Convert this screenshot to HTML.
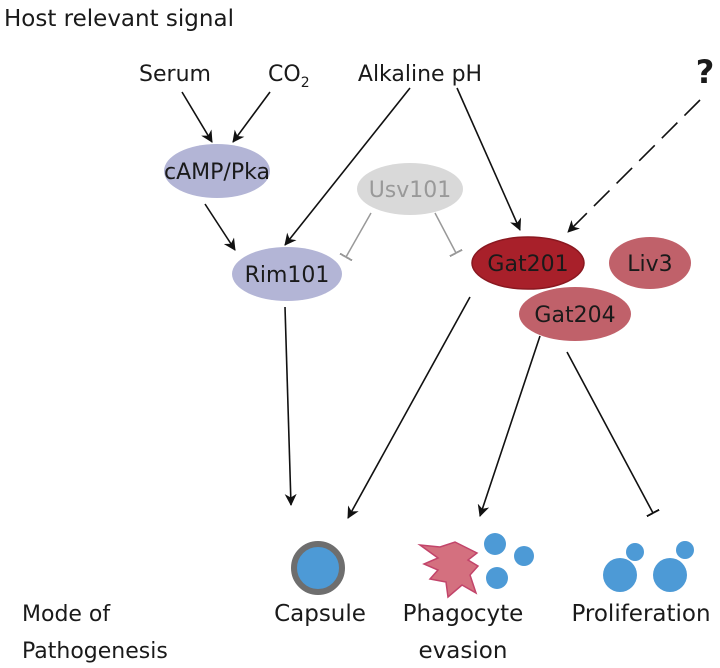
<!DOCTYPE html>
<html><head><meta charset="utf-8"><style>
html,body{margin:0;padding:0;background:#fff}
svg{display:block}
text{font-family:"DejaVu Sans","Liberation Sans",sans-serif;fill:#1a1a1a}
</style></head><body>
<svg width="720" height="668" viewBox="0 0 720 668" xmlns="http://www.w3.org/2000/svg">
<defs>
<marker id="a" markerWidth="12" markerHeight="12" refX="11" refY="6" orient="auto" markerUnits="userSpaceOnUse" viewBox="0 0 12 12">
<path d="M0,0 L12,6 L0,12 L3.5,6 z" fill="#111"/></marker>
<marker id="t" markerWidth="2" markerHeight="14" refX="1" refY="7" orient="auto" markerUnits="userSpaceOnUse"><rect x="0" y="0" width="2" height="14" fill="#111"/></marker>
<marker id="tg" markerWidth="2" markerHeight="14" refX="1" refY="7" orient="auto" markerUnits="userSpaceOnUse"><rect x="0" y="0" width="2" height="14" fill="#999"/></marker>
</defs>
<text x="4" y="26" font-size="23">Host relevant signal</text>
<text x="175" y="81" font-size="22" text-anchor="middle">Serum</text>
<text x="268" y="81" font-size="22">CO<tspan font-size="14" dy="6">2</tspan></text>
<text x="420" y="81" font-size="22" text-anchor="middle">Alkaline pH</text>
<text x="705" y="83" font-size="32" font-weight="bold" text-anchor="middle">?</text>

<g stroke="#111" stroke-width="1.6" fill="none">
<line x1="182" y1="92" x2="212" y2="142" marker-end="url(#a)"/>
<line x1="270" y1="92" x2="233" y2="142" marker-end="url(#a)"/>
<line x1="205" y1="204" x2="235" y2="250" marker-end="url(#a)"/>
<line x1="410" y1="88" x2="285" y2="245" marker-end="url(#a)"/>
<line x1="457" y1="88" x2="520" y2="230" marker-end="url(#a)"/>
<line x1="700" y1="100" x2="568" y2="232" stroke-dasharray="22,10" marker-end="url(#a)"/>
<line x1="285" y1="307" x2="291" y2="505" marker-end="url(#a)"/>
<line x1="470" y1="297" x2="348" y2="518" marker-end="url(#a)"/>
<line x1="540" y1="336" x2="480" y2="516" marker-end="url(#a)"/>
<line x1="567" y1="352" x2="653" y2="513" marker-end="url(#t)"/>
</g>
<g stroke="#999" stroke-width="1.5">
<line x1="371" y1="213" x2="346" y2="257" marker-end="url(#tg)"/>
<line x1="435" y1="213" x2="456" y2="253" marker-end="url(#tg)"/>
</g>

<ellipse cx="217" cy="171" rx="53" ry="27" fill="#b3b5d6"/>
<text x="217" y="179" font-size="22" text-anchor="middle">cAMP/Pka</text>
<ellipse cx="287" cy="274" rx="55" ry="27" fill="#b3b5d6"/>
<text x="287" y="282" font-size="22" text-anchor="middle">Rim101</text>
<ellipse cx="410" cy="189" rx="53" ry="26" fill="#d9d9d9"/>
<text x="410" y="197" font-size="22" text-anchor="middle" style="fill:#999">Usv101</text>
<ellipse cx="528" cy="263" rx="56" ry="26" fill="#a8202a" stroke="#8a1820" stroke-width="1.5"/>
<text x="528" y="271" font-size="22" text-anchor="middle">Gat201</text>
<ellipse cx="650" cy="263" rx="41" ry="26" fill="#c0616a"/>
<text x="650" y="271" font-size="22" text-anchor="middle">Liv3</text>
<ellipse cx="575" cy="314" rx="56" ry="27" fill="#c0616a"/>
<text x="575" y="322" font-size="22" text-anchor="middle">Gat204</text>

<circle cx="318" cy="568" r="24" fill="#4d9ad6" stroke="#6e6e6e" stroke-width="6"/>
<path d="M420,545 L440,547 L455,542 L477,553 L468,560 L478,566 L470,575 L476,593 L462,585 L448,597 L446,582 L430,579 L438,570 L424,564 L438,558 Z" fill="#d4707f" stroke="#c2446a" stroke-width="1.5"/>
<circle cx="495" cy="544" r="11" fill="#4d9ad6"/>
<circle cx="524" cy="556" r="10" fill="#4d9ad6"/>
<circle cx="497" cy="578" r="11" fill="#4d9ad6"/>
<circle cx="620" cy="575" r="17" fill="#4d9ad6"/>
<circle cx="635" cy="552" r="9" fill="#4d9ad6"/>
<circle cx="670" cy="575" r="17" fill="#4d9ad6"/>
<circle cx="685" cy="550" r="9" fill="#4d9ad6"/>

<text x="320" y="621" font-size="23" text-anchor="middle">Capsule</text>
<text x="463" y="621" font-size="23" text-anchor="middle">Phagocyte</text>
<text x="463" y="658" font-size="23" text-anchor="middle">evasion</text>
<text x="641" y="621" font-size="23" text-anchor="middle">Proliferation</text>
<text x="22" y="621" font-size="22">Mode of</text>
<text x="22" y="658" font-size="22">Pathogenesis</text>
</svg>
</body></html>
